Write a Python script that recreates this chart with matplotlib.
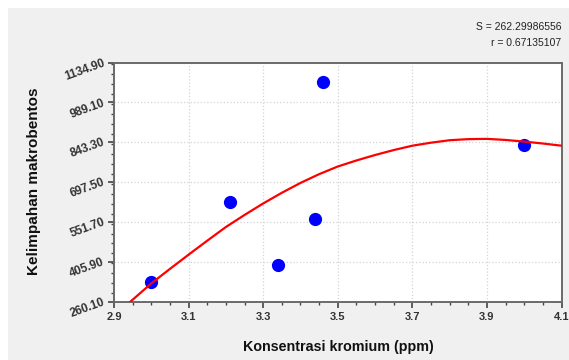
import numpy as np
import matplotlib
matplotlib.use('Agg')
import matplotlib.pyplot as plt
from matplotlib.patches import Rectangle
from matplotlib.ticker import MultipleLocator, FormatStrFormatter

plt.rcParams['font.family'] = ['Liberation Sans', 'DejaVu Sans']

# observed points
kromium = [3.00, 3.21, 3.34, 3.44, 3.46, 4.00]
makrobentos = [334, 626, 395, 562, 1065, 834]

# fitted curve
curve_x = [2.943, 3.0, 3.05, 3.1, 3.15, 3.2, 3.25, 3.3, 3.35, 3.4, 3.45, 3.5,
           3.55, 3.6, 3.65, 3.7, 3.75, 3.8, 3.85, 3.9, 3.95, 4.0, 4.05, 4.1]
curve_y = [260.1, 328, 381, 433, 484, 534, 578, 620, 659, 695, 727, 755,
           777, 797, 815, 831, 842, 851, 855, 856, 852, 846, 839, 831]

y_ticks = [260.10, 405.90, 551.70, 697.50, 843.30, 989.10, 1134.90]
x_ticks = [2.9, 3.1, 3.3, 3.5, 3.7, 3.9, 4.1]

fig = plt.figure(figsize=(5.69, 3.60), dpi=100, facecolor='white')
fig.patches.append(Rectangle((8 / 569, 0), 1, 352 / 360, transform=fig.transFigure,
                             facecolor='#f0f0f0', edgecolor='none', zorder=-10))

ax = fig.add_axes([114 / 569, 58 / 360, 447.5 / 569, 239.5 / 360])
ax.set_facecolor('white')

ax.plot(kromium, makrobentos, 'o', color='#0000ff', ms=8.5, zorder=3)
ax.plot(curve_x, curve_y, color='#ff0000', lw=1.6, zorder=4, clip_on=True)

ax.set_xlim(x_ticks[0], x_ticks[-1])
ax.set_ylim(y_ticks[0], y_ticks[-1])
ax.set_xticks(x_ticks)
ax.set_yticks(y_ticks)
ax.xaxis.set_minor_locator(MultipleLocator(0.05))
ax.yaxis.set_minor_locator(MultipleLocator(36.45))
ax.xaxis.set_major_formatter(FormatStrFormatter('%.1f'))
ax.yaxis.set_major_formatter(FormatStrFormatter('%.2f'))

ax.grid(True, which='major', color='#d4d4d4', linestyle=':', linewidth=0.9)
ax.set_axisbelow(True)

for s in ax.spines.values():
    s.set_color('#6a6a6a')
    s.set_linewidth(1.4)

ax.tick_params(which='major', length=4.5, width=1.2, color='#444444')
ax.tick_params(which='minor', length=2.5, width=1.0, color='#444444')
ax.tick_params(axis='x', labelsize=8, pad=3)
ax.tick_params(axis='y', labelsize=8.5, pad=2.5)
ax.tick_params(top=False, right=False, which='both')

for lbl in ax.get_xticklabels():
    lbl.set_fontweight('bold')
    lbl.set_color('#333333')
for lbl in ax.get_yticklabels():
    lbl.set_fontweight('bold')
    lbl.set_color('#333333')
    lbl.set_rotation(20)
    lbl.set_rotation_mode('anchor')
    lbl.set_ha('right')
    lbl.set_va('center')

fig.text(338 / 569, 1 - 347 / 360, 'Konsentrasi kromium (ppm)', ha='center', va='center',
         fontsize=10.3, fontweight='bold', color='#111111')
fig.text(34 / 569, 1 - 181 / 360, 'Kelimpahan makrobentos', ha='center', va='center',
         rotation=90, fontsize=11, fontweight='bold', color='#111111')

fig.text(561 / 569, 1 - 27 / 360, 'S = 262.29986556', ha='right', va='center',
         fontsize=7.5, color='#222222')
fig.text(561 / 569, 1 - 43 / 360, 'r = 0.67135107', ha='right', va='center',
         fontsize=7.5, color='#222222')

fig.savefig('out.png', dpi=100, facecolor=fig.get_facecolor())
